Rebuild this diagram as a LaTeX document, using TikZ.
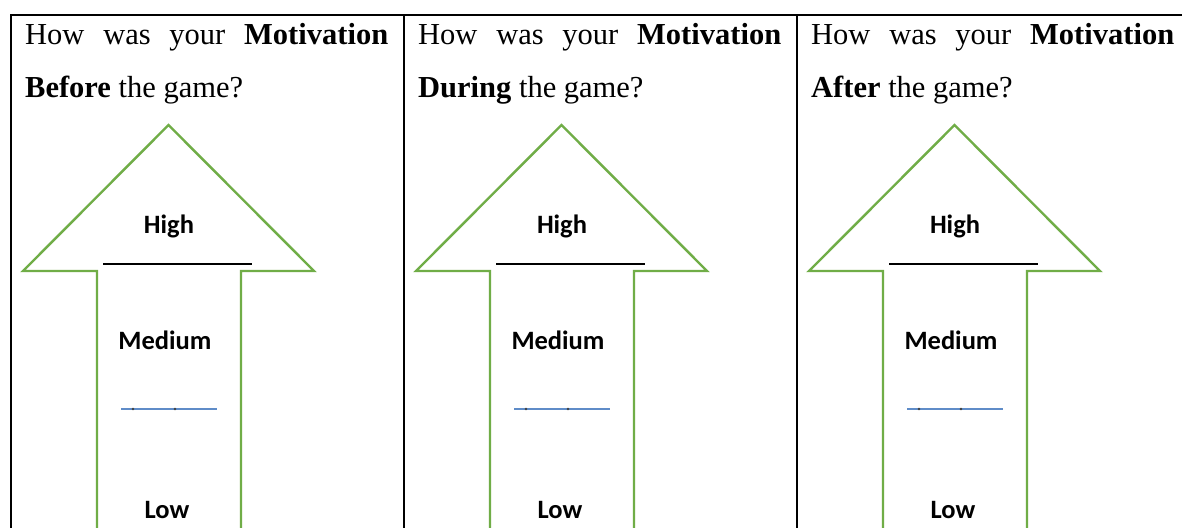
\documentclass[tikz,border=0pt]{standalone}
\usepackage{fontspec}
\setmainfont{Liberation Serif}
\newfontfamily\labelfont{Carlito}
\definecolor{arrowgreen}{RGB}{112,173,71}
\definecolor{markblue}{RGB}{95,140,200}

\begin{document}
\begin{tikzpicture}[x=1pt,y=-1pt,
  gridline/.style={line width=2.4pt, black},
  arrowshape/.style={draw=arrowgreen, line width=2.4pt, line join=miter},
  levellabel/.style={font=\labelfont\bfseries\fontsize{26.5}{26.5}\selectfont, inner sep=0pt},
  question/.style={font=\fontsize{30.5}{30.5}\selectfont, inner sep=0pt, anchor=base west},
  midline/.style={draw=markblue, line width=2.6pt},
]
\useasboundingbox (0,0) rectangle (1182,527);
\fill[white] (0,0) rectangle (1182,527);
\clip (0,0) rectangle (1182,527);

% table frame, open to the right and at the bottom
\draw[gridline] (11,530) -- (11,15) -- (1190,15);
\draw[gridline] (404,15) -- (404,530);
\draw[gridline] (797,15) -- (797,530);

% one column per phase of the game
\foreach \i/\w in {0/Before,1/During,2/After} {
  \begin{scope}[xshift=\i*393pt]
    \node[question] (qa\i) at (25,45) {\makebox[363pt][s]{How was your \textbf{Motivation}}};
    \node[question] (qb\i) at (25,97) {\textbf{\w} the game?};
    \draw[arrowshape] (97,540) -- (97,271) -- (23,271) -- (168.5,125)
      -- (314,271) -- (241,271) -- (241,540);
    \node[levellabel] (high\i) at (169,226) {High};
    \draw[line width=2.4pt] (103,264) -- (252,264);
    \node[levellabel] (med\i) at (165,340) {Medium};
    \draw[midline] (121,409) -- (217,409);
    \fill[black!75] (133,409) circle (1.4) (175,409) circle (1.4);
    \node[levellabel] (low\i) at (167,510) {Low};
  \end{scope}
}
\end{tikzpicture}
\end{document}
